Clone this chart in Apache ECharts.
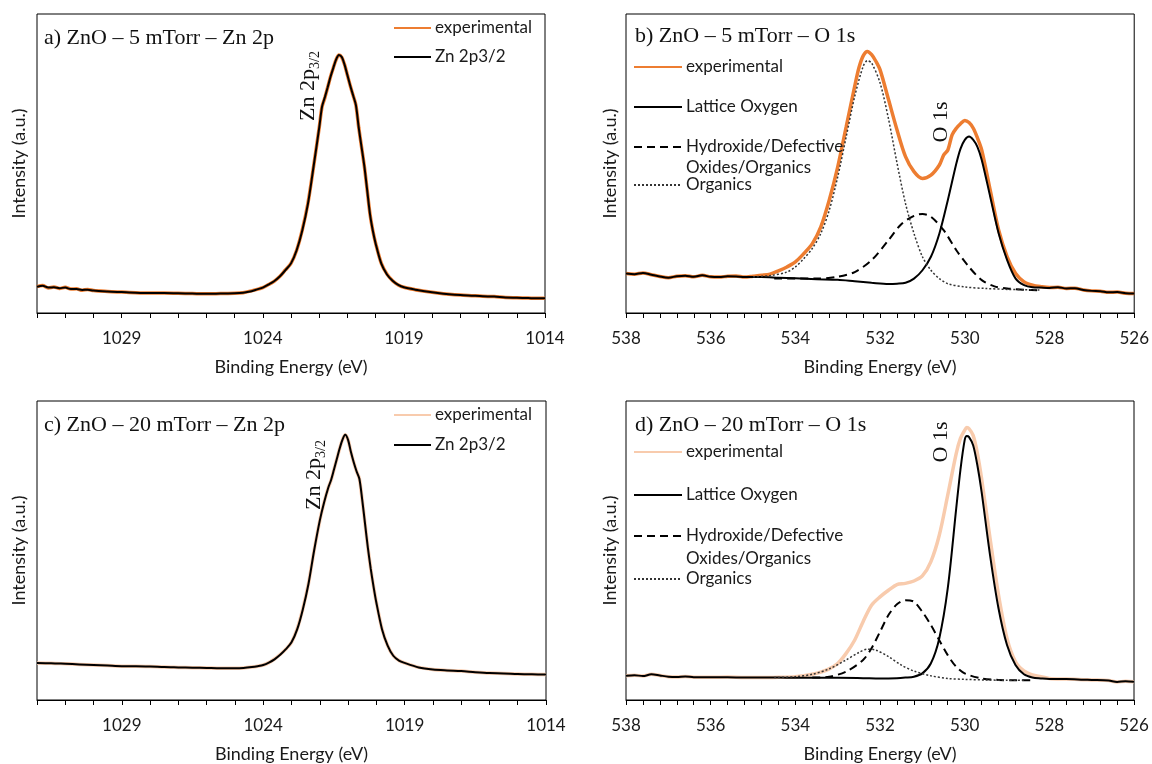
<!DOCTYPE html>
<html>
<head>
<meta charset="utf-8">
<script src="https://cdn.jsdelivr.net/npm/echarts@6/dist/echarts.min.js"></script>
<style>
html,body{margin:0;padding:0;background:#fff;}
#chart{width:1152px;height:764px;}
</style>
</head>
<body>
<div id="chart"></div>
<script>
// ---------- Panel a: ZnO 5 mTorr, Zn 2p ----------
const zn5Energy = [1032,1031.8,1031.6,1031.4,1031.2,1031.0,1030.8,1030.6,1030.4,1030.2,1030.0,1029.5,1029.0,1028.5,1028.0,1027.5,1027.0,1026.5,1026.0,1025.5,1025.0,1024.7,1024.4,1024.2,1024.0,1023.8,1023.6,1023.4,1023.2,1023.0,1022.8,1022.6,1022.4,1022.2,1022.0,1021.9,1021.8,1021.7,1021.6,1021.5,1021.4,1021.3,1021.2,1021.1,1021.0,1020.9,1020.8,1020.7,1020.6,1020.5,1020.4,1020.3,1020.2,1020.1,1020.0,1019.8,1019.6,1019.4,1019.2,1019.0,1018.6,1018.2,1017.8,1017.4,1017.0,1016.6,1016.2,1015.8,1015.4,1015.0,1014.6,1014.3,1014.0];
const zn5Exp = [8.8,9.2,8.4,8.7,8.2,8.6,8.0,8.1,7.6,7.9,7.5,7.2,7.0,6.8,6.7,6.7,6.6,6.5,6.4,6.5,6.6,6.8,7.4,7.9,8.5,9.5,10.6,12.2,14.4,16.6,21.0,27.8,36.7,49.0,62.0,69.0,72.0,75.5,79.0,82.0,84.8,86.3,85.5,83.0,79.5,76.0,72.8,69.5,62.0,55.5,49.0,41.0,33.0,27.5,23.3,16.6,13.0,10.8,9.4,8.6,7.8,7.2,6.7,6.3,6.0,5.8,5.6,5.5,5.2,5.1,5.0,4.9,4.9];
const zn5Fit = [8.8,9.1,8.5,8.6,8.3,8.5,8.0,8.0,7.7,7.8,7.5,7.2,7.0,6.8,6.7,6.7,6.6,6.5,6.4,6.5,6.6,6.8,7.3,7.9,8.5,9.5,10.6,12.2,14.3,16.6,21.0,27.6,36.5,49.0,62.0,69.0,72.2,75.5,79.0,82.0,84.8,86.3,85.6,83.0,79.5,76.0,72.8,69.5,62.0,55.5,49.0,41.0,33.0,27.5,23.2,16.5,12.9,10.8,9.4,8.6,7.8,7.2,6.7,6.3,6.0,5.8,5.6,5.5,5.2,5.1,5.0,4.9,4.9];

// ---------- Panel c: ZnO 20 mTorr, Zn 2p ----------
const zn20Energy = [1032,1031.5,1031.0,1030.5,1030.0,1029.5,1029.0,1028.5,1028.0,1027.5,1027.0,1026.5,1026.0,1025.5,1025.0,1024.7,1024.4,1024.2,1024.0,1023.8,1023.6,1023.4,1023.2,1023.0,1022.8,1022.6,1022.4,1022.2,1022.0,1021.85,1021.7,1021.6,1021.5,1021.4,1021.3,1021.2,1021.1,1021.0,1020.9,1020.8,1020.7,1020.6,1020.5,1020.4,1020.3,1020.2,1020.1,1020.0,1019.8,1019.6,1019.4,1019.2,1019.0,1018.5,1018.0,1017.5,1017.0,1016.5,1016.0,1015.5,1015.0,1014.5,1014.0];
const zn20Exp = [12.4,12.3,12.1,11.9,11.7,11.5,11.3,11.3,11.2,11.0,10.9,10.8,10.7,10.6,10.6,10.7,11.0,11.3,11.7,12.5,13.7,15.2,17.0,19.3,23.8,30.5,39.0,50.0,60.0,66.0,71.0,73.5,77.0,80.5,84.0,87.0,88.7,87.0,83.0,79.5,76.5,74.0,67.0,59.0,51.0,44.0,38.0,32.7,23.8,18.2,14.8,13.2,12.4,10.9,10.2,9.9,9.7,9.3,9.0,8.9,8.7,8.6,8.5];
const zn20Fit = [12.4,12.3,12.1,11.9,11.7,11.5,11.3,11.3,11.2,11.0,10.9,10.8,10.7,10.6,10.6,10.7,11.0,11.3,11.7,12.5,13.6,15.1,17.0,19.3,23.6,30.3,38.8,50.0,60.0,66.0,71.0,73.6,77.0,80.5,84.0,87.0,88.7,87.0,83.0,79.5,76.5,74.0,67.0,59.0,51.0,44.0,38.0,32.6,23.7,18.2,14.8,13.2,12.4,10.9,10.2,9.9,9.7,9.3,9.0,8.9,8.7,8.6,8.5];

// ---------- Panel b: ZnO 5 mTorr, O 1s ----------
const o5ExpEnergy = [538.0,537.8,537.6,537.4,537.2,537.0,536.8,536.6,536.4,536.2,536.0,535.8,535.6,535.4,535.2,535.0,534.8,534.6,534.4,534.2,534.0,533.8,533.6,533.4,533.2,533.0,532.8,532.6,532.5,532.4,532.3,532.2,532.1,532.0,531.8,531.6,531.4,531.2,531.0,530.8,530.6,530.5,530.4,530.3,530.2,530.1,530.0,529.9,529.8,529.7,529.6,529.4,529.2,529.0,528.8,528.6,528.4,528.2,528.0,527.8,527.6,527.4,527.2,527.0,526.8,526.6,526.4,526.2,526.0];
const o5Exp = [13.2,13.0,13.4,12.8,12.2,11.8,12.3,12.5,12.1,12.6,12.1,12.0,12.3,12.4,12.0,12.3,12.6,13.0,14.1,15.4,17.1,19.9,23.2,28.8,37.8,48.9,62.3,75.8,82.0,86.0,87.5,86.4,84.2,81.3,71.3,61.2,52.3,47.3,45.0,46.1,49.5,52.8,54.5,59.6,61.8,63.3,64.4,63.7,61.8,58.5,54.5,41.1,27.7,18.8,13.2,10.4,9.3,8.8,8.5,8.6,8.2,8.3,7.7,7.4,7.3,6.9,7.0,6.6,6.5];
const o5LatEnergy = [538.0,537.8,537.6,537.4,537.2,537.0,536.8,536.6,536.4,536.2,536.0,535.8,535.6,535.4,535.2,534.8,534.4,534.0,533.5,533.0,532.6,532.2,531.8,531.6,531.4,531.2,531.0,530.8,530.6,530.4,530.2,530.1,530.0,529.9,529.8,529.7,529.6,529.4,529.2,529.0,528.8,528.6,528.4,528.2,528.0,527.8,527.6,527.4,527.2,527.0,526.8,526.6,526.4,526.2,526.0];
const o5Lat = [13.2,13.0,13.4,12.8,12.2,11.8,12.3,12.5,12.1,12.6,12.1,12.0,12.3,12.2,12.0,12.0,11.8,11.6,11.3,11.1,10.6,10.1,9.7,9.8,10.1,11.5,14.3,18.8,26.6,37.8,50.0,55.0,57.9,59.0,57.9,55.5,51.2,38.9,26.6,17.7,11.5,9.3,8.6,8.5,8.4,8.6,8.2,8.3,7.7,7.4,7.3,6.9,7.0,6.6,6.5];
const o5HydEnergy = [534.5,533.5,533.0,532.6,532.2,531.8,531.5,531.2,531.0,530.8,530.5,530.2,529.9,529.6,529.3,529.0,528.6,528.2];
const o5Hyd = [11.5,11.5,12.1,13.7,17.7,24.4,29.7,32.5,33.1,32.2,27.7,21.0,15.4,11.0,8.9,8.2,7.8,7.6];
const o5OrgEnergy = [535.0,534.6,534.2,534.0,533.8,533.6,533.4,533.2,533.0,532.8,532.6,532.4,532.3,532.2,532.0,531.8,531.6,531.4,531.2,531.0,530.8,530.6,530.4,530.0,529.5,529.0,528.6,528.2];
const o5Org = [12.1,12.5,13.7,15.4,18.2,21.6,26.6,34.4,45.6,59.0,72.4,82.5,84.4,83.6,76.9,64.8,50.1,36.6,26.6,18.8,14.3,11.5,9.8,8.7,8.2,7.9,7.8,7.7];

// ---------- Panel d: ZnO 20 mTorr, O 1s ----------
const o20ExpEnergy = [538.0,537.8,537.6,537.4,537.2,537.0,536.8,536.6,536.4,536.0,535.6,535.2,534.8,534.4,534.0,533.8,533.6,533.4,533.2,533.0,532.8,532.6,532.4,532.2,532.0,531.8,531.6,531.4,531.2,531.0,530.8,530.6,530.4,530.2,530.1,530.0,529.95,529.9,529.8,529.7,529.6,529.4,529.2,529.0,528.8,528.6,528.4,528.2,528.0,527.6,527.2,527.0,526.6,526.4,526.2,526.0];
const o20Exp = [8.1,8.3,8.0,8.6,8.2,7.8,7.7,7.9,7.6,7.6,7.7,7.5,7.5,7.6,7.8,8.1,8.6,9.3,10.4,12.2,15.6,20.0,26.2,31.7,34.5,36.7,38.6,39.0,39.8,41.5,46.2,55.1,68.5,82.4,87.5,90.2,91.1,90.8,88.5,82.5,74.0,54.0,35.1,20.6,12.8,9.7,8.4,7.8,7.2,7.0,6.8,6.7,6.5,6.0,6.3,6.1];
const o20LatEnergy = [538.0,537.8,537.6,537.4,537.2,537.0,536.8,536.6,536.4,536.0,535.6,535.2,534.8,534.4,534.0,533.6,533.0,532.4,532.0,531.6,531.4,531.2,531.0,530.8,530.6,530.4,530.2,530.1,530.0,529.95,529.9,529.8,529.7,529.6,529.4,529.2,529.0,528.8,528.6,528.4,528.2,528.0,527.6,527.2,527.0,526.6,526.4,526.2,526.0];
const o20Lat = [8.1,8.3,8.0,8.6,8.2,7.8,7.7,7.9,7.6,7.6,7.6,7.5,7.5,7.5,7.4,7.4,7.4,7.3,7.2,7.3,7.5,7.8,8.9,12.2,20.6,37.3,64.0,77.0,86.9,88.3,88.0,85.2,78.5,69.6,48.4,30.6,18.4,11.7,8.6,7.5,7.2,7.0,7.0,6.8,6.7,6.5,6.0,6.3,6.1];
const o20HydEnergy = [533.6,533.2,532.8,532.4,532.2,532.0,531.8,531.6,531.4,531.2,531.0,530.8,530.6,530.4,530.2,530.0,529.6,529.2,528.8,528.4];
const o20Hyd = [7.5,7.8,9.5,13.4,17.3,22.8,28.4,32.0,33.4,32.9,29.5,25.1,20.0,15.0,11.1,8.9,7.2,6.7,6.6,6.6];
const o20OrgEnergy = [534.5,534.0,533.6,533.2,532.8,532.5,532.3,532.1,531.8,531.5,531.2,530.8,530.4,530.0,529.5,529.0,528.6];
const o20Org = [7.5,7.8,8.6,10.4,13.4,15.9,17.0,16.7,14.5,11.7,9.7,8.1,7.2,6.9,6.7,6.6,6.6];

// ---------- Tick labels ----------
const znTickLabels = [1029, 1024, 1019, 1014];
const oTickLabels = [538, 536, 534, 532, 530, 528, 526];

// ---------- Text ----------
const panelTitles = ['a) ZnO \u2013 5 mTorr \u2013 Zn 2p', 'b) ZnO \u2013 5 mTorr \u2013 O 1s', 'c) ZnO \u2013 20 mTorr \u2013 Zn 2p', 'd) ZnO \u2013 20 mTorr \u2013 O 1s'];

const ORANGE = '#ED7D31';
const PEACH = '#F8CBAD';
const SANS = 'Lato';
const SERIF = 'Liberation Serif';
const TXT = '#1a1a1a';

function zip(xs, ys) { return xs.map((x, i) => [x, ys[i]]); }

const grids = [
  {left: 37, top: 14, width: 508, height: 299},
  {left: 626, top: 14, width: 509, height: 299},
  {left: 37, top: 401, width: 509, height: 299},
  {left: 626, top: 401, width: 508, height: 299}
].map(g => Object.assign({show: true, borderColor: '#000', borderWidth: 1, backgroundColor: 'transparent'}, g));

function makeX(idx, isZn) {
  return {
    gridIndex: idx, type: 'value', inverse: true,
    min: isZn ? 1014 : 526, max: isZn ? 1032 : 538, interval: isZn ? 1 : 0.4,
    axisLine: {show: true, lineStyle: {color: '#000', width: 1}},
    axisTick: {show: true, inside: false, length: 5, lineStyle: {color: '#000', width: 1}},
    axisLabel: {
      show: true, color: TXT, fontSize: 17, fontFamily: SANS, margin: 17,
      showMinLabel: true, showMaxLabel: true,
      formatter: function (v) {
        const r = Math.round(v);
        if (Math.abs(v - r) > 1e-6) return '';
        const list = isZn ? znTickLabels : oTickLabels;
        return list.indexOf(r) >= 0 ? String(r) : '';
      }
    },
    splitLine: {show: false},
    name: 'Binding Energy (eV)', nameLocation: 'middle', nameGap: 45,
    nameTextStyle: {color: TXT, fontSize: 18, fontFamily: SANS}
  };
}
function makeY(idx, gap) {
  return {
    gridIndex: idx, type: 'value', min: 0, max: 100,
    axisLine: {show: false}, axisTick: {show: false}, axisLabel: {show: false}, splitLine: {show: false},
    name: 'Intensity (a.u.)', nameLocation: 'middle', nameGap: gap,
    nameTextStyle: {color: TXT, fontSize: 18, fontFamily: SANS}
  };
}

function line(name, idx, data, color, width, type, z) {
  return {
    name: name, type: 'line', xAxisIndex: idx, yAxisIndex: idx, data: data,
    symbol: 'none', smooth: 0.3, z: z, silent: true,
    lineStyle: {color: color, width: width, type: type || 'solid'},
    itemStyle: {color: color}
  };
}

const DASH = [8, 5];
const DOT = [2, 2];
const series = [
  line('a|experimental', 0, zip(zn5Energy, zn5Exp), ORANGE, 3.5, 'solid', 2),
  line('a|Zn 2p3/2', 0, zip(zn5Energy, zn5Fit), '#000', 2, 'solid', 3),
  line('b|experimental', 1, zip(o5ExpEnergy, o5Exp), ORANGE, 3.5, 'solid', 2),
  line('b|Lattice Oxygen', 1, zip(o5LatEnergy, o5Lat), '#000', 2, 'solid', 3),
  line('b|Hydroxide/Defective', 1, zip(o5HydEnergy, o5Hyd), '#000', 2, DASH, 3),
  line('b|Organics', 1, zip(o5OrgEnergy, o5Org), '#333', 1.5, DOT, 3),
  line('c|experimental', 2, zip(zn20Energy, zn20Exp), PEACH, 3.5, 'solid', 2),
  line('c|Zn 2p3/2', 2, zip(zn20Energy, zn20Fit), '#000', 2, 'solid', 3),
  line('d|experimental', 3, zip(o20ExpEnergy, o20Exp), PEACH, 3.5, 'solid', 2),
  line('d|Lattice Oxygen', 3, zip(o20LatEnergy, o20Lat), '#000', 2, 'solid', 3),
  line('d|Hydroxide/Defective', 3, zip(o20HydEnergy, o20Hyd), '#000', 2, DASH, 3),
  line('d|Organics', 3, zip(o20OrgEnergy, o20Org), '#333', 1.5, DOT, 3)
];

function leg(name, left, centerY, w) {
  return {
    data: [name], left: left, top: centerY - 10, padding: 0, itemWidth: w, itemHeight: 14,
    selectedMode: false, orient: 'vertical',
    itemStyle: {opacity: 0, borderWidth: 0},
    formatter: function (n) { return n.split('|')[1]; },
    textStyle: {color: TXT, fontSize: 17, fontFamily: SANS, lineHeight: 20, padding: [0, 0, 0, -1]}
  };
}
const legends = [
  leg('a|experimental', 393, 28, 37), leg('a|Zn 2p3/2', 393, 57, 37),
  leg('b|experimental', 633, 67, 48), leg('b|Lattice Oxygen', 633, 107, 48),
  leg('b|Hydroxide/Defective', 633, 147, 48), leg('b|Organics', 633, 185, 48),
  leg('c|experimental', 393, 415, 37), leg('c|Zn 2p3/2', 393, 445, 37),
  leg('d|experimental', 633, 452, 48), leg('d|Lattice Oxygen', 633, 495, 48),
  leg('d|Hydroxide/Defective', 633, 536, 48), leg('d|Organics', 633, 579, 48)
];

const titlePos = [[44, 38], [635, 36], [44, 425], [635, 425]];
const titles = panelTitles.map((t, i) => ({
  text: t, left: titlePos[i][0], top: titlePos[i][1] - 12, padding: 0,
  textStyle: {fontFamily: SERIF, fontSize: 22, fontWeight: 'normal', color: '#111', lineHeight: 24}
}));

function rotText(x, y, text) {
  return {
    type: 'text', x: x, y: y, rotation: Math.PI / 2, z: 10, silent: true,
    style: {
      text: text, align: 'center', verticalAlign: 'middle', fill: '#111',
      font: '22px "' + SERIF + '"',
      rich: {
        n: {fontSize: 22, fontFamily: SERIF, fill: '#111'},
        s: {fontSize: 14, fontFamily: SERIF, fill: '#111', verticalAlign: 'bottom', padding: [0, 0, -3, 0]}
      }
    }
  };
}
function plainText(x, y, text) {
  return {
    type: 'text', x: x, y: y, z: 10, silent: true,
    style: {text: text, align: 'left', verticalAlign: 'middle', fill: TXT, font: '17px ' + SANS}
  };
}

const graphics = [
  rotText(308, 86, '{n|Zn 2p}{s|3/2}'),
  rotText(314, 475, '{n|Zn 2p}{s|3/2}'),
  rotText(941, 122, '{n|O 1s}'),
  rotText(941, 442, '{n|O 1s}'),
  plainText(686, 168, 'Oxides/Organics'),
  plainText(686, 559, 'Oxides/Organics')
];

const chart = echarts.init(document.getElementById('chart'), null, {renderer: 'canvas'});
chart.setOption({
  animation: false,
  backgroundColor: '#fff',
  title: titles,
  legend: legends,
  grid: grids,
  xAxis: [makeX(0, true), makeX(1, false), makeX(2, true), makeX(3, false)],
  yAxis: [makeY(0, 9), makeY(1, 7), makeY(2, 9), makeY(3, 7)],
  series: series,
  graphic: graphics
});
</script>
</body>
</html>
